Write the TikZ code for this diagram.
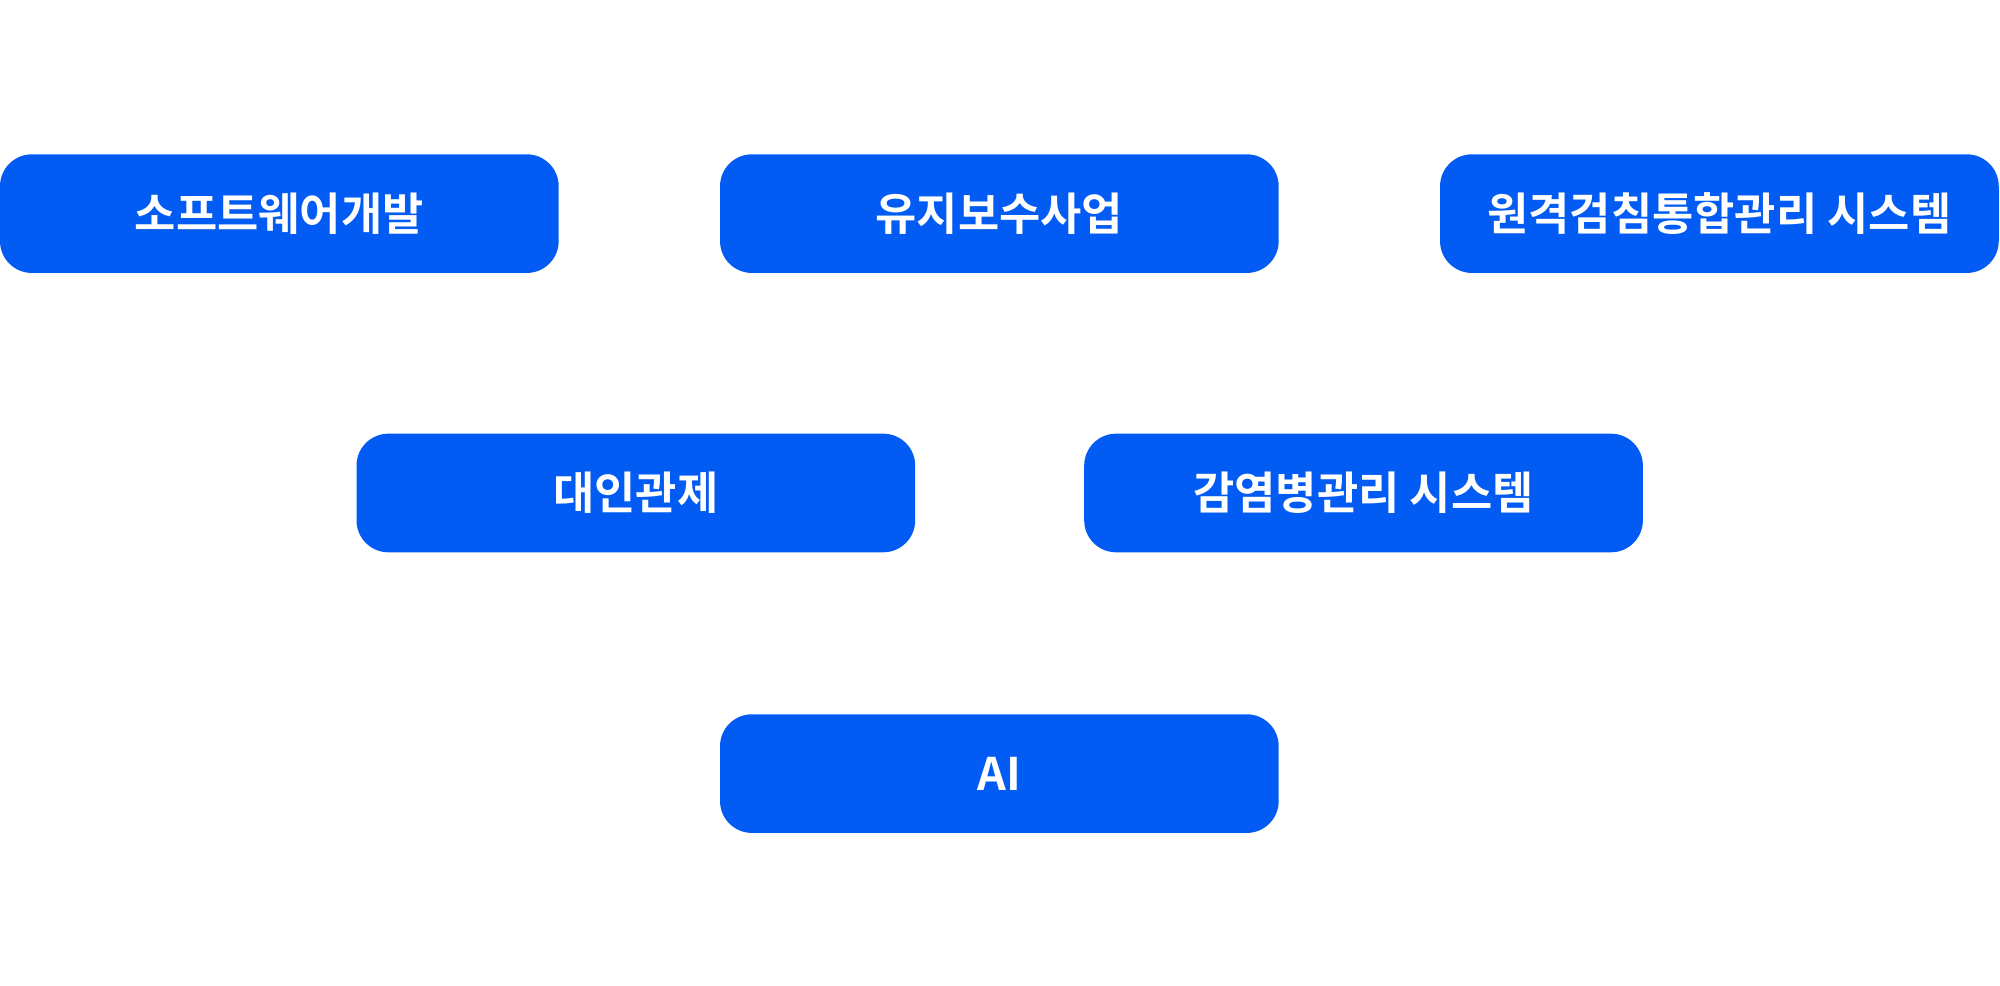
\documentclass[tikz,border=0pt]{standalone}
\usepackage{fontspec}
\newfontfamily\kr{Noto Sans CJK KR}[BoldFont={* Bold}]
\definecolor{boxblue}{HTML}{025CF4}
\begin{document}
\begin{tikzpicture}
\tikzset{cat/.style={fill=boxblue, rounded corners=0.25cm, minimum width=4.38cm, minimum height=0.93cm, text=white, font=\kr\bfseries\fontsize{10pt}{12pt}\selectfont, inner sep=0pt}}
\useasboundingbox (0,0) rectangle (15.68,7.73);
\node[cat] (a) at (2.19,6.055) {소프트웨어개발};
\node[cat] (b) at (7.835,6.055) {유지보수사업};
\node[cat] (c) at (13.48,6.055) {원격검침통합관리 시스템};
\node[cat] (d) at (4.985,3.865) {대인관제};
\node[cat] (e) at (10.69,3.865) {감염병관리 시스템};
\node[cat] (f) at (7.835,1.665) {AI};
\end{tikzpicture}
\end{document}
